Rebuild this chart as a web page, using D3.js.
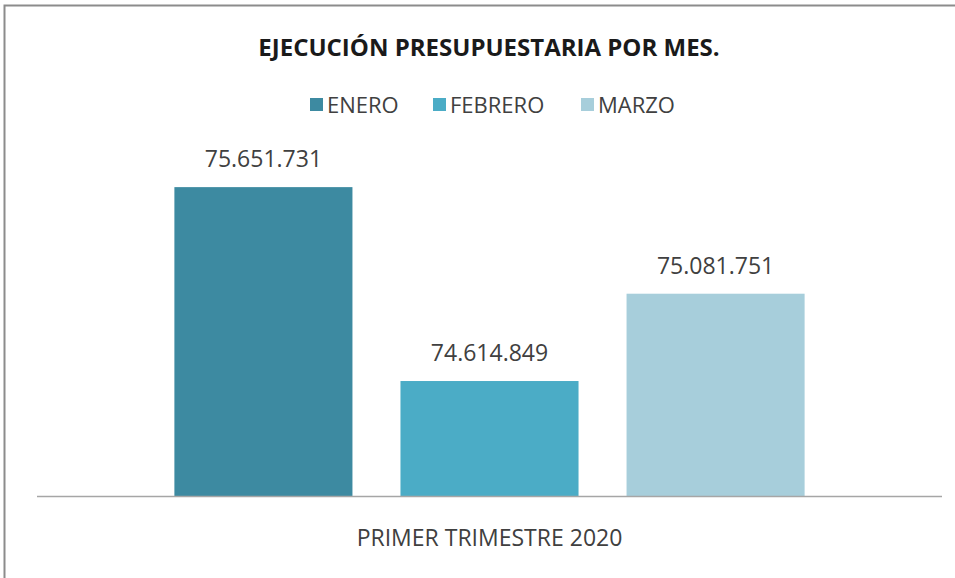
<!DOCTYPE html>
<html>
<head>
<meta charset="utf-8">
<script src="https://cdn.jsdelivr.net/npm/d3@7"></script>
<style>
  body { margin: 0; background: #fff; }
  svg { display: block; font-family: "Open Sans", "Noto Sans", sans-serif; }
</style>
</head>
<body>
<div id="chart"></div>
<script>
// data
const categories = ["PRIMER TRIMESTRE 2020"];
const months = ["ENERO", "FEBRERO", "MARZO"];
const values = [75651731, 74614849, 75081751];
const colors = ["#3d8aa1", "#4bacc6", "#a7cedb"];
const yDomain = [74000000, 76000000];

const width = 955, height = 578;
const plot = { left: 37, right: 942, top: 122, bottom: 496 };

const svg = d3.select("#chart").append("svg")
    .attr("width", width)
    .attr("height", height);

// chart frame (only left/top edges visible in the crop)
svg.append("rect")
    .attr("x", 4.5).attr("y", 5.5)
    .attr("width", 1000).attr("height", 1000)
    .attr("fill", "none")
    .attr("stroke", "#8c8c8c")
    .attr("stroke-width", 2);

const x0 = d3.scaleBand()
    .domain(categories)
    .range([plot.left, plot.right])
    .paddingInner(0)
    .paddingOuter(0.218);

const x1 = d3.scaleBand()
    .domain(months)
    .range([0, x0.bandwidth()])
    .paddingInner(0.2124)
    .paddingOuter(0);

const y = d3.scaleLinear()
    .domain(yDomain)
    .range([plot.bottom, plot.top]);

const color = d3.scaleOrdinal().domain(months).range(colors);

const es = d3.formatLocale({ decimal: ",", thousands: ".", grouping: [3], currency: ["$", ""] });
const fmt = es.format(",d");

// title
svg.append("text")
    .attr("x", 489).attr("y", 56)
    .attr("text-anchor", "middle")
    .attr("font-size", 24)
    .attr("font-weight", "bold")
    .attr("fill", "#1a1a1a")
    .text("EJECUCIÓN PRESUPUESTARIA POR MES.");

// legend
const legendItems = [
    { name: months[0], x: 310 },
    { name: months[1], x: 433 },
    { name: months[2], x: 581 }
];
const legend = svg.append("g").selectAll("g")
    .data(legendItems)
    .join("g")
    .attr("transform", d => `translate(${d.x},105)`);
legend.append("rect")
    .attr("x", 0).attr("y", -7)
    .attr("width", 13).attr("height", 13)
    .attr("fill", d => color(d.name));
legend.append("text")
    .attr("x", 17).attr("y", 8)
    .attr("font-size", 22)
    .attr("fill", "#404040")
    .text(d => d.name);

// bars
const data = months.map((m, i) => ({ month: m, value: values[i], cat: categories[0] }));

const g = svg.append("g");
g.selectAll("rect")
    .data(data)
    .join("rect")
    .attr("x", d => x0(d.cat) + x1(d.month))
    .attr("y", d => y(d.value))
    .attr("width", x1.bandwidth())
    .attr("height", d => y(yDomain[0]) - y(d.value))
    .attr("fill", d => color(d.month));

g.selectAll("text")
    .data(data)
    .join("text")
    .attr("x", d => x0(d.cat) + x1(d.month) + x1.bandwidth() / 2)
    .attr("y", d => y(d.value) - 20)
    .attr("text-anchor", "middle")
    .attr("font-size", 23)
    .attr("fill", "#404040")
    .text(d => fmt(d.value));

// category axis
const xAxis = svg.append("g")
    .attr("transform", `translate(0,${plot.bottom})`)
    .call(d3.axisBottom(x0).tickSize(0).tickPadding(34));
xAxis.select(".domain")
    .attr("stroke", "#a6a6a6")
    .attr("stroke-width", 1.5)
    .attr("d", `M${plot.left},0.5H${plot.right}`);
xAxis.selectAll(".tick text")
    .attr("font-size", 23)
    .attr("font-family", "'Open Sans', 'Noto Sans', sans-serif")
    .attr("fill", "#404040");
</script>
</body>
</html>
